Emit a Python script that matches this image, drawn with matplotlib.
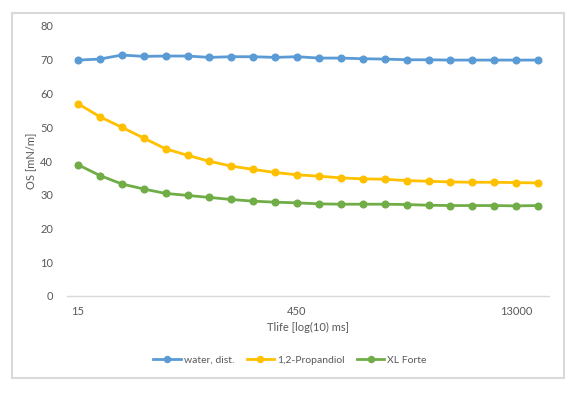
import numpy as np
import matplotlib
matplotlib.use('Agg')
import matplotlib.pyplot as plt
from matplotlib.patches import Rectangle

# Tlife categories (log-spaced, only every 10th is labelled)
tick_pos = [0, 10, 20]
tick_labels = ["15", "450", "13000"]

water = [69.9, 70.2, 71.4, 71.0, 71.1, 71.1, 70.7, 70.9, 70.9, 70.7, 70.9,
         70.5, 70.5, 70.3, 70.2, 70.0, 70.0, 69.9, 69.9, 69.9, 69.9, 69.9]
propandiol = [57.0, 53.1, 50.0, 46.8, 43.6, 41.7, 39.9, 38.5, 37.5, 36.6, 35.9,
              35.5, 35.0, 34.7, 34.6, 34.2, 34.0, 33.8, 33.7, 33.7, 33.6, 33.5]
xl_forte = [38.9, 35.7, 33.2, 31.7, 30.4, 29.8, 29.2, 28.6, 28.1, 27.8, 27.6,
            27.3, 27.2, 27.2, 27.2, 27.1, 26.9, 26.8, 26.8, 26.8, 26.7, 26.8]

series = [
    ("water, dist.", water, "#5B9BD5"),
    ("1,2-Propandiol", propandiol, "#FFC000"),
    ("XL Forte", xl_forte, "#70AD47"),
]

plt.rcParams['font.family'] = ['Lato', 'DejaVu Sans']
txt = "#595959"

fig = plt.figure(figsize=(5.8, 3.95), dpi=100)
ax = fig.add_axes([67 / 580, 1 - 296 / 395, 482 / 580, 270 / 395])

x = np.arange(len(water))
for name, vals, col in series:
    ax.plot(x, vals, "-o", color=col, lw=2.0, ms=4.8, label=name)

ax.set_xlim(-0.5, len(water) - 0.5)
ax.set_ylim(0, 80)
ax.set_yticks(range(0, 81, 10))
ax.set_xticks(tick_pos)
ax.set_xticklabels(tick_labels)
ax.tick_params(axis="both", length=0, labelsize=8, colors=txt)
ax.tick_params(axis="x", pad=7)
ax.tick_params(axis="y", pad=10)
for s in ["top", "right", "left"]:
    ax.spines[s].set_visible(False)
ax.spines["bottom"].set_color("#D9D9D9")
ax.spines["bottom"].set_linewidth(1.0)

ax.set_xlabel("Tlife [log(10) ms]", fontsize=8, color=txt, labelpad=4)
ax.set_ylabel("OS [mN/m]", fontsize=8, color=txt, labelpad=3)

leg = fig.legend(loc="center", bbox_to_anchor=(0.5, 1 - 360 / 395), ncol=3,
                 frameon=False, fontsize=7.5, handlelength=2.6,
                 columnspacing=1.2, handletextpad=0.3, markerscale=0.9)
for t in leg.get_texts():
    t.set_color(txt)

fig.patches.append(Rectangle((12 / 580, 1 - 378 / 395), 552 / 580, 365 / 395,
                             transform=fig.transFigure, fill=False,
                             edgecolor="#D9D9D9", lw=1.5))

fig.savefig("out.png", dpi=100)
